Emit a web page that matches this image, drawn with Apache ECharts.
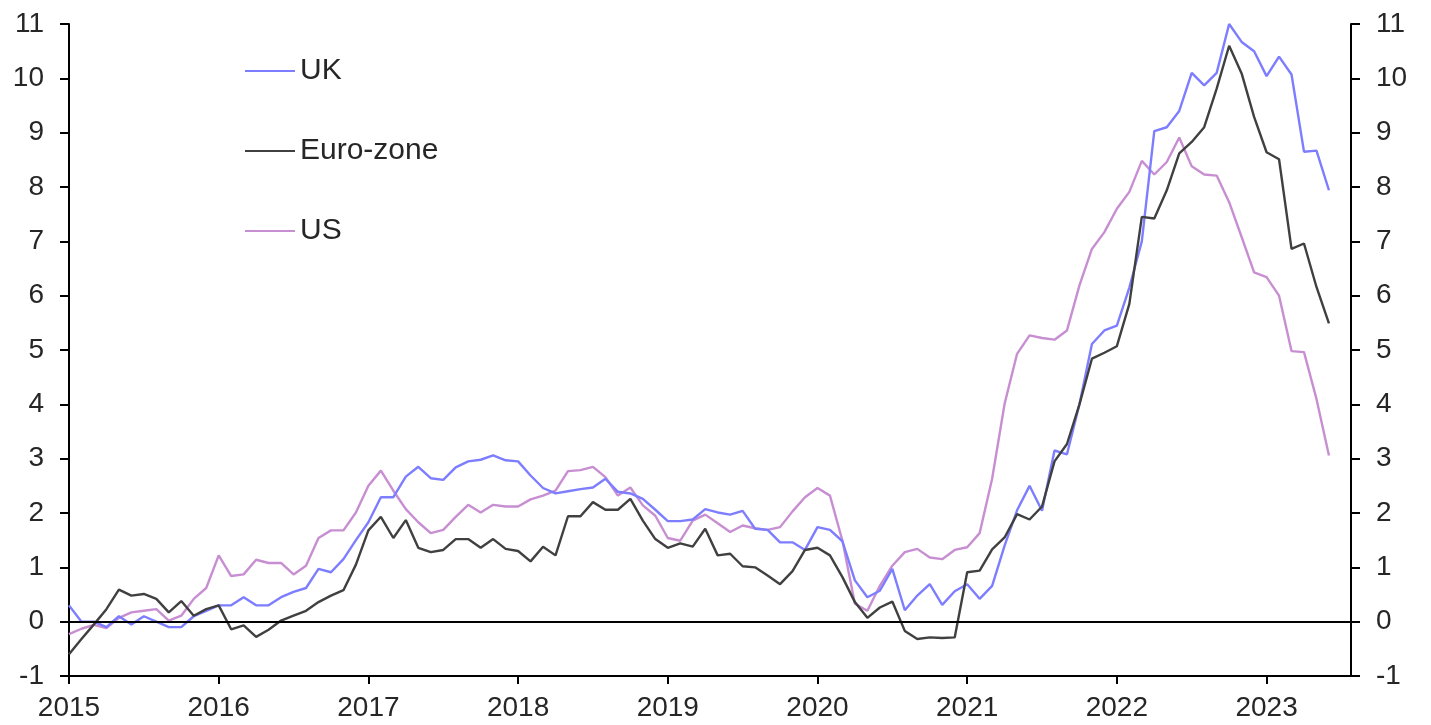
<!DOCTYPE html>
<html>
<head>
<meta charset="utf-8">
<script src="https://cdn.jsdelivr.net/npm/echarts@6/dist/echarts.min.js"></script>
<style>
  html, body { margin: 0; padding: 0; background: #ffffff; }
  #chart { width: 1431px; height: 725px; }
</style>
</head>
<body>
<div id="chart"></div>
<script>
// Consumer price inflation, % y/y, monthly from January 2015 to June 2023
const startYear = 2015;
const yearTicks = [2015, 2016, 2017, 2018, 2019, 2020, 2021, 2022, 2023];
const seriesNames = ['UK', 'Euro-zone', 'US'];

const ukValues = [
  0.3, 0.0, 0.0, -0.1, 0.1, -0.05, 0.1, 0.0, -0.1, -0.1, 0.1, 0.2,
  0.3, 0.3, 0.45, 0.3, 0.3, 0.45, 0.55, 0.62, 0.97, 0.91, 1.15, 1.5,
  1.83, 2.29, 2.29, 2.67, 2.85, 2.64, 2.61, 2.84, 2.95, 2.98, 3.06, 2.97,
  2.95, 2.69, 2.46, 2.36, 2.4, 2.44, 2.47, 2.63, 2.39, 2.36, 2.26, 2.06,
  1.85, 1.85, 1.88, 2.07, 2.01, 1.97, 2.04, 1.71, 1.69, 1.46, 1.46, 1.32,
  1.74, 1.69, 1.48, 0.76, 0.45, 0.57, 0.97, 0.21, 0.48, 0.69, 0.31, 0.56,
  0.69, 0.42, 0.66, 1.4, 2.05, 2.5, 2.04, 3.15, 3.08, 4.0, 5.11, 5.36,
  5.45, 6.15, 7.0, 9.03, 9.1, 9.4, 10.1, 9.87, 10.1, 11.0, 10.67, 10.5,
  10.04, 10.4, 10.07, 8.65, 8.67, 7.94
];

const euroValues = [
  -0.6, -0.32, -0.05, 0.23, 0.59, 0.48, 0.51, 0.42, 0.17, 0.38, 0.11, 0.23,
  0.3, -0.14, -0.07, -0.28, -0.15, 0.02, 0.11, 0.2, 0.36, 0.48, 0.58, 1.05,
  1.68, 1.93, 1.54, 1.87, 1.36, 1.28, 1.32, 1.52, 1.52, 1.36, 1.52, 1.34,
  1.3, 1.11, 1.38, 1.22, 1.94, 1.94, 2.2, 2.06, 2.06, 2.26, 1.86, 1.52,
  1.36, 1.44, 1.38, 1.71, 1.22, 1.25, 1.02, 1.0, 0.85, 0.69, 0.93, 1.32,
  1.36, 1.22, 0.82, 0.36, 0.07, 0.26, 0.37, -0.17, -0.32, -0.29, -0.3, -0.29,
  0.91, 0.94, 1.33, 1.55, 1.98, 1.88, 2.12, 2.95, 3.27, 4.0, 4.84, 4.95,
  5.07, 5.85, 7.45, 7.42, 7.94, 8.62, 8.83, 9.1, 9.81, 10.6, 10.09, 9.29,
  8.64, 8.51, 6.86, 6.96, 6.16, 5.49
];

const usValues = [
  -0.23, -0.13, -0.06, -0.12, 0.07, 0.17, 0.2, 0.23, 0.02, 0.11, 0.42, 0.62,
  1.22, 0.84, 0.87, 1.14, 1.08, 1.08, 0.87, 1.03, 1.54, 1.68, 1.68, 2.01,
  2.5, 2.78, 2.41, 2.07, 1.83, 1.63, 1.69, 1.93, 2.15, 2.01, 2.15, 2.12,
  2.12, 2.25, 2.32, 2.41, 2.77, 2.79, 2.85, 2.66, 2.32, 2.47, 2.14, 1.95,
  1.54, 1.49, 1.86, 1.97, 1.81, 1.65, 1.77, 1.72, 1.69, 1.74, 2.03, 2.29,
  2.46, 2.32, 1.49, 0.33, 0.2, 0.66, 1.03, 1.28, 1.34, 1.18, 1.15, 1.32,
  1.37, 1.63, 2.63, 4.01, 4.93, 5.27, 5.22, 5.19, 5.36, 6.19, 6.86, 7.17,
  7.6, 7.91, 8.48, 8.23, 8.46, 8.91, 8.38, 8.23, 8.21, 7.72, 7.08, 6.43,
  6.34, 6.0, 4.98, 4.96, 4.1, 3.06
];

const seriesColors = ['#7d7dff', '#404040', '#c88ed2'];

// Pair each monthly value with its position in fractional years
function toPoints(values) {
  return values.map((v, i) => [startYear + i / 12, v]);
}

const textColor = '#262626';
const fontFamily = '"Liberation Sans", Arial, sans-serif';
const axisLineStyle = { color: '#000000', width: 2 };

const yAxisCommon = {
  type: 'value',
  min: -1,
  max: 11,
  interval: 1,
  splitLine: { show: false },
  axisLine: { show: true, lineStyle: axisLineStyle },
  axisTick: { show: true, inside: false, length: 9, lineStyle: axisLineStyle },
  axisLabel: { color: textColor, fontSize: 28, fontFamily: fontFamily, margin: 25 }
};

const option = {
  animation: false,
  backgroundColor: '#ffffff',
  grid: { left: 69, right: 80, top: 24, bottom: 49 },
  legend: {
    data: seriesNames,
    orient: 'vertical',
    left: 240,
    top: 50,
    icon: 'rect',
    itemWidth: 50,
    itemHeight: 2,
    itemGap: 48,
    selectedMode: false,
    textStyle: { color: textColor, fontSize: 30, fontFamily: fontFamily, lineHeight: 32 }
  },
  xAxis: {
    type: 'value',
    min: 2015,
    max: 2023.564,
    interval: 1,
    splitLine: { show: false },
    axisLine: { show: true, onZero: false, lineStyle: axisLineStyle },
    axisTick: { show: true, length: 8, lineStyle: axisLineStyle, customValues: yearTicks },
    axisLabel: {
      color: textColor, fontSize: 28, fontFamily: fontFamily, margin: 18,
      customValues: yearTicks,
      formatter: v => String(Math.round(v))
    }
  },
  yAxis: [
    Object.assign({ position: 'left' }, yAxisCommon),
    Object.assign({ position: 'right' }, yAxisCommon)
  ],
  series: [
    {
      name: 'UK',
      type: 'line',
      data: toPoints(ukValues),
      showSymbol: false,
      symbol: 'none',
      lineStyle: { color: seriesColors[0], width: 2.4 },
      itemStyle: { color: seriesColors[0] },
      z: 3,
      markLine: {
        silent: true,
        symbol: 'none',
        label: { show: false },
        lineStyle: { color: '#000000', width: 2, type: 'solid' },
        data: [{ yAxis: 0 }]
      }
    },
    {
      name: 'Euro-zone',
      type: 'line',
      data: toPoints(euroValues),
      showSymbol: false,
      symbol: 'none',
      lineStyle: { color: seriesColors[1], width: 2.4 },
      itemStyle: { color: seriesColors[1] },
      z: 4
    },
    {
      name: 'US',
      type: 'line',
      data: toPoints(usValues),
      showSymbol: false,
      symbol: 'none',
      lineStyle: { color: seriesColors[2], width: 2.4 },
      itemStyle: { color: seriesColors[2] },
      z: 2
    }
  ]
};

const chart = echarts.init(document.getElementById('chart'), null, { renderer: 'canvas' });
chart.setOption(option);
</script>
</body>
</html>
